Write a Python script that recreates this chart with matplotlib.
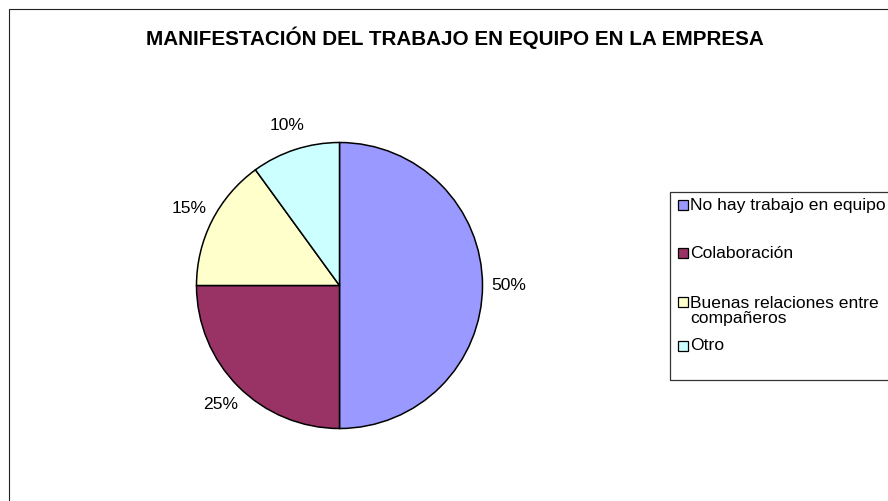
import matplotlib
matplotlib.use("Agg")
import matplotlib.pyplot as plt
from matplotlib.patches import Rectangle

# ---- data ----
categories = ["No hay trabajo en equipo", "Colaboración",
              "Buenas relaciones entre\ncompañeros", "Otro"]
values = [50, 25, 15, 10]
colors = ["#9999FF", "#993366", "#FFFFCC", "#CCFFFF"]
title = "MANIFESTACIÓN DEL TRABAJO EN EQUIPO EN LA EMPRESA"

# ---- layout (pixels, from top-left) ----
W, H = 888, 501
pie_cx, pie_cy, pie_r = 339.5, 285.5, 143
legend_rows_y = [205, 253, 311, 346]

plt.rcParams['font.family'] = ['Liberation Sans', 'DejaVu Sans']

fig = plt.figure(figsize=(W / 100, H / 100), dpi=100)
ax = fig.add_axes([0, 0, 1, 1])

wedges, texts, autotexts = ax.pie(
    values, colors=colors, startangle=90, counterclock=False,
    center=(pie_cx, H - pie_cy), radius=pie_r,
    autopct=lambda p: f"{p:.0f}%", pctdistance=1.18,
    wedgeprops=dict(edgecolor="black", linewidth=1.1),
    textprops=dict(fontsize=12.6, color="black"))
for t in autotexts:
    t.set_ha("center")
    t.set_va("center")

ax.set_xlim(0, W)
ax.set_ylim(0, H)
ax.set_aspect("auto")
ax.axis("off")

# outer chart border
ax.add_patch(Rectangle((9, -20), W + 20, H - 9 + 20, fill=False,
                       edgecolor="#222222", linewidth=0.8, clip_on=False))

# title
ax.text(455, H - 45, title, ha="center", va="baseline",
        fontsize=14.9, fontweight="bold", color="black")

# legend box
ax.add_patch(Rectangle((670, H - 380), 260, 188, fill=False,
                       edgecolor="#333333", linewidth=0.9))
for lab, col, yy in zip(categories, colors, legend_rows_y):
    first_line_y = yy if "\n" not in lab else yy - 9
    ax.add_patch(Rectangle((677.5, H - first_line_y - 5), 10, 10,
                           facecolor=col, edgecolor="black", linewidth=0.9))
    ax.text(690, H - yy, lab, ha="left", va="center", fontsize=12.6,
            linespacing=1.03, color="black")

fig.savefig("out.png", dpi=100)
